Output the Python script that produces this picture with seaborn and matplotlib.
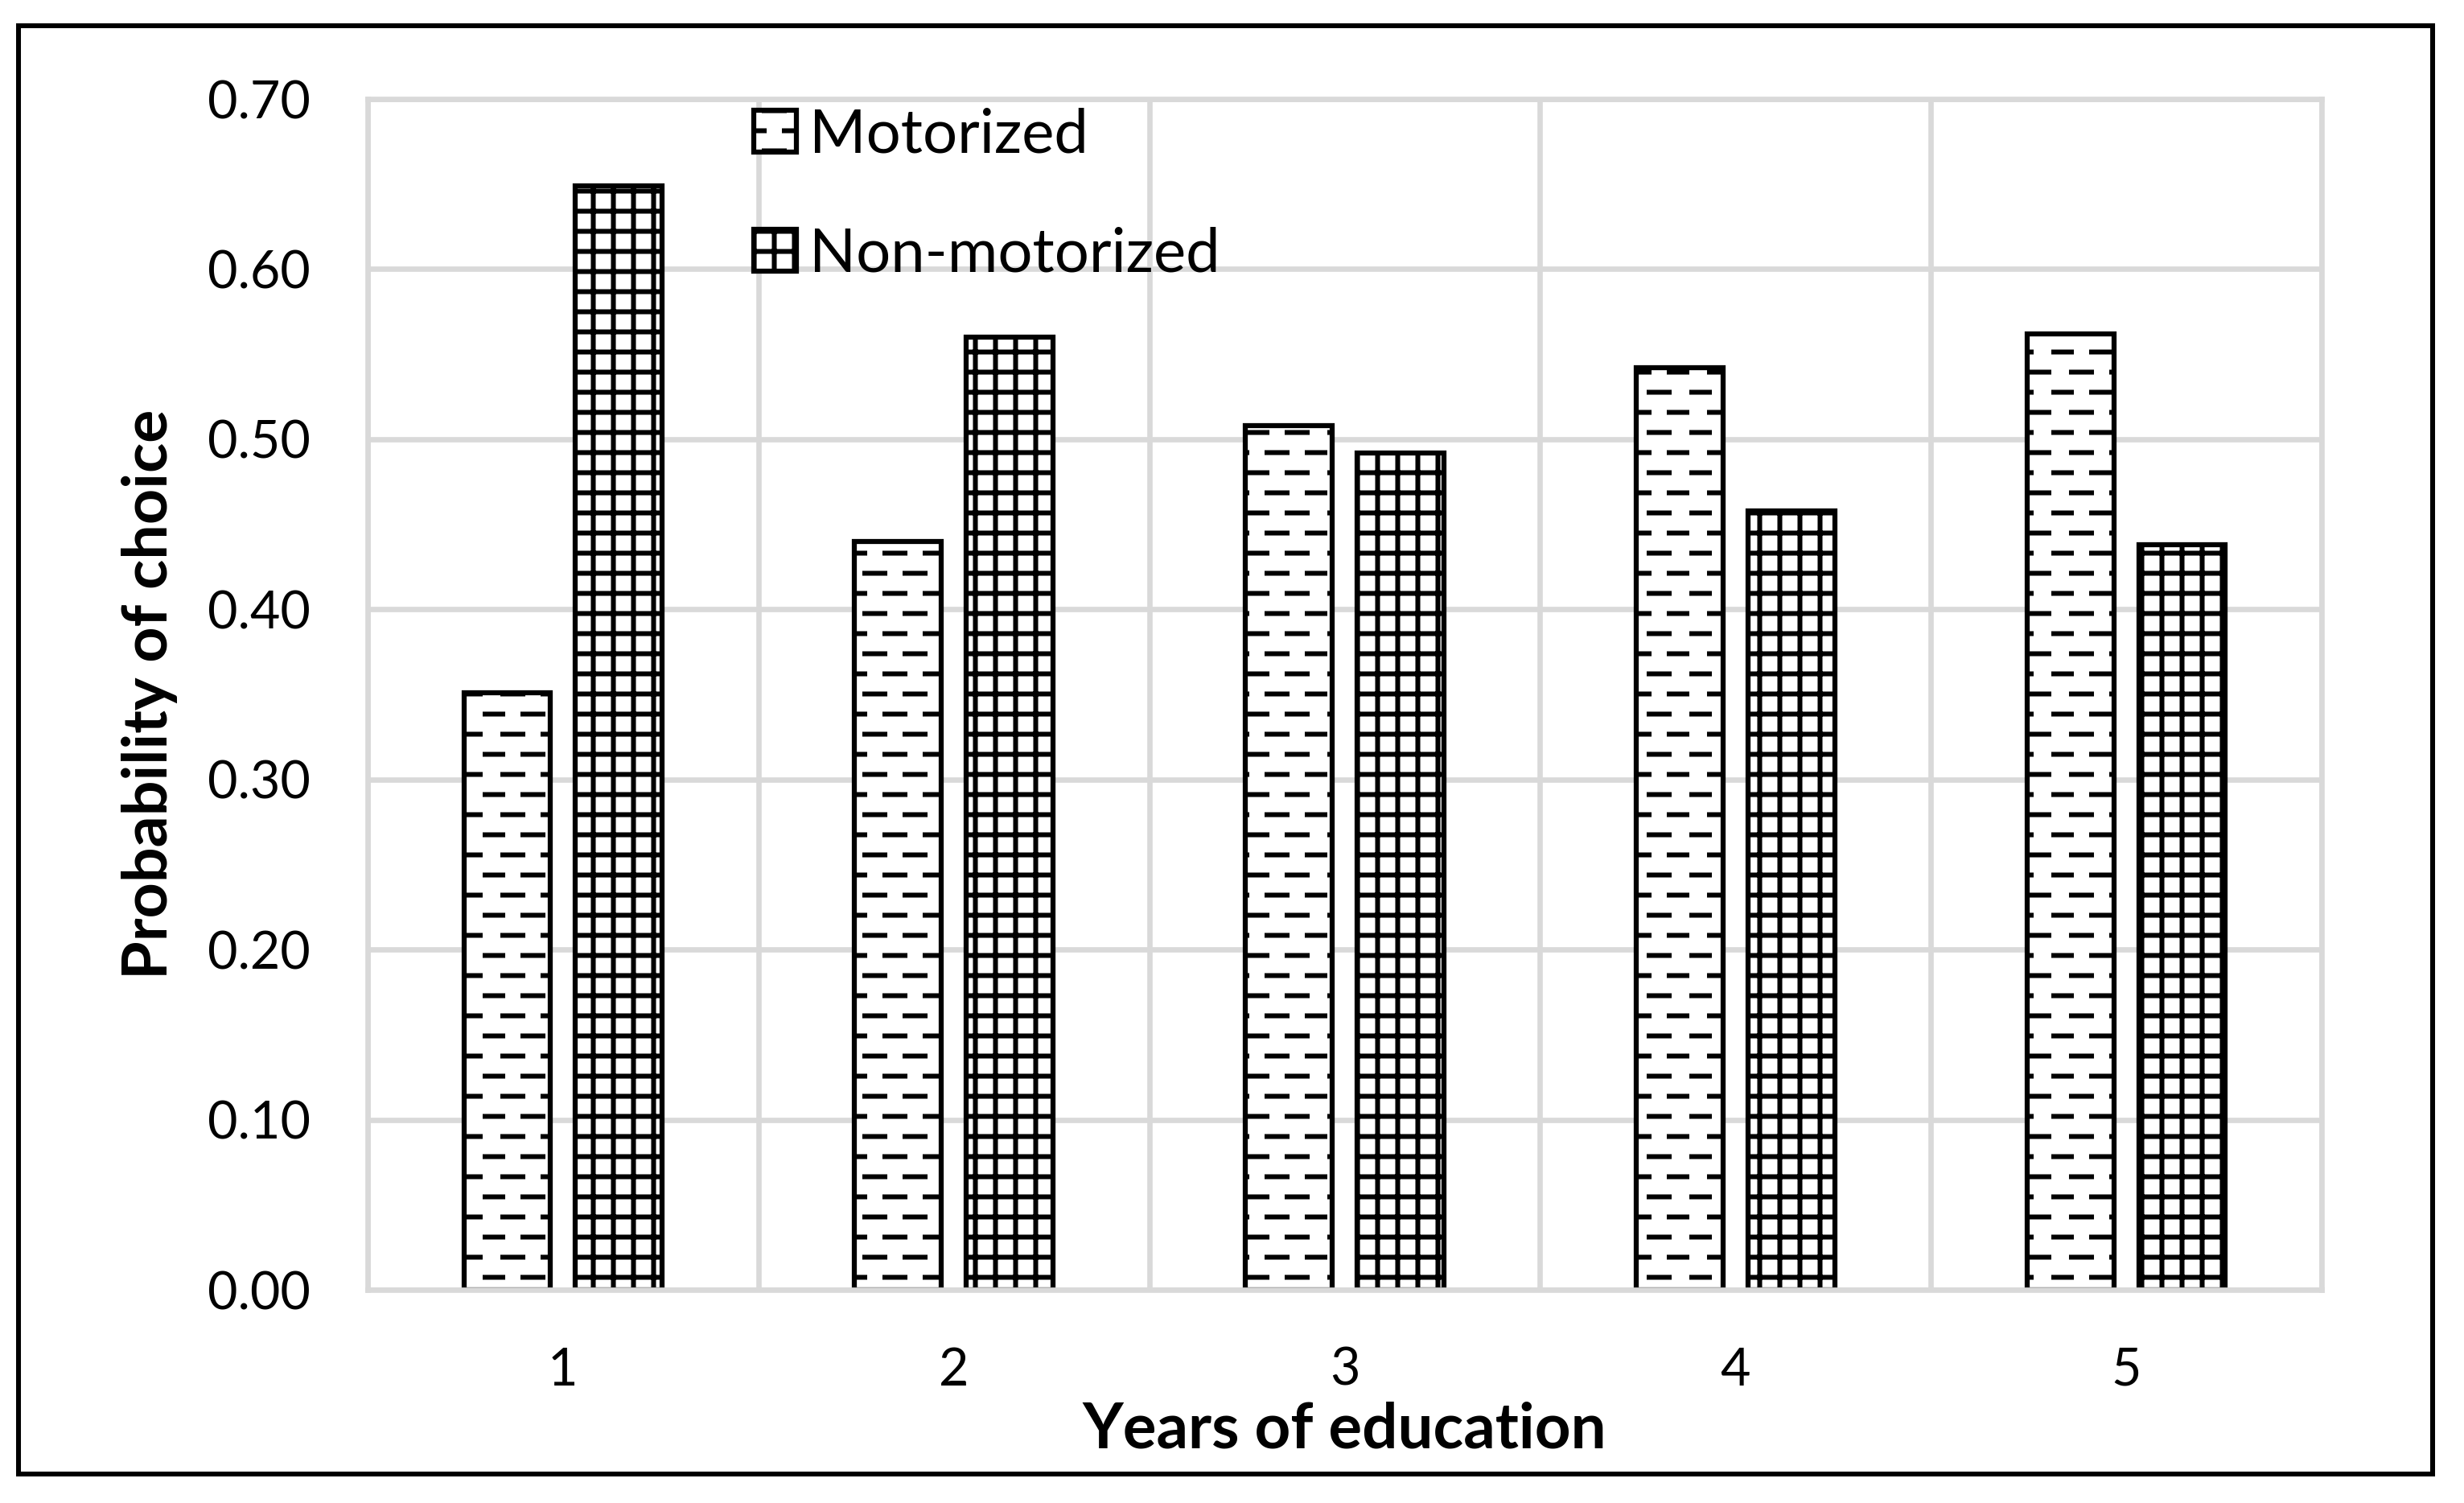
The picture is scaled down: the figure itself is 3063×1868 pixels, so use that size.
import warnings
import pandas as pd
import seaborn as sns
import matplotlib.pyplot as plt
import matplotlib.hatch as mhatch
from matplotlib.path import Path
from matplotlib.patches import Rectangle
from matplotlib.ticker import FixedLocator, FormatStrFormatter

years = ["1", "2", "3", "4", "5"]
motorized = [0.351, 0.440, 0.508, 0.542, 0.562]
non_motorized = [0.649, 0.560, 0.492, 0.458, 0.438]
modes = ["Motorized", "Non-motorized"]
mode_hatches = ["d", "+"]
y_ticks = [0.00, 0.10, 0.20, 0.30, 0.40, 0.50, 0.60, 0.70]


class DashHatch(mhatch.HatchPatternBase):
    """staggered short horizontal dashes (Excel 'dashed horizontal' fill)"""
    rows = 6

    def __init__(self, hatch, density):
        self.num_vertices = self.rows * 3 * 2 if "d" in hatch else 0

    def set_vertices_and_codes(self, vertices, codes):
        step = 1.0 / self.rows
        i = 0
        for row in range(self.rows):
            y = (row + 0.5) * step
            shift = 0.0 if row % 2 == 0 else step
            for k in range(3):
                x0 = shift + 2 * k * step
                vertices[i] = (x0, y)
                vertices[i + 1] = (x0 + step, y)
                codes[i] = Path.MOVETO
                codes[i + 1] = Path.LINETO
                i += 2


mhatch._hatch_types.append(DashHatch)
warnings.filterwarnings("ignore", message=".*hatch must consist.*")

df = pd.DataFrame({
    "years": years * 2,
    "mode": [modes[0]] * len(years) + [modes[1]] * len(years),
    "prob": motorized + non_motorized,
})

sns.set_theme(style="white")
plt.rcParams["font.family"] = ["Lato", "DejaVu Sans"]
plt.rcParams["text.color"] = "black"
plt.rcParams["axes.labelcolor"] = "black"
plt.rcParams["xtick.color"] = "black"
plt.rcParams["ytick.color"] = "black"
plt.rcParams["hatch.linewidth"] = 2.9
plt.rcParams["hatch.color"] = "black"

W, H = 3063, 1868
fig = plt.figure(figsize=(W / 150, H / 150), dpi=150)
ax = fig.add_axes([457 / W, 1 - 1603 / H, 2429 / W, 1480 / H])

sns.barplot(data=df, x="years", y="prob", hue="mode", hue_order=modes,
            palette=["white", "white"], saturation=1, width=0.572, gap=0.224,
            edgecolor="black", linewidth=3, errorbar=None, legend=False, ax=ax)

for container, hatch in zip(ax.containers, mode_hatches):
    for bar in container:
        bar.set_hatch(hatch)

grid_grey = "#d9d9d9"
ax.set_ylim(0, 0.7)
ax.set_xlim(-0.5, len(years) - 0.5)
ax.yaxis.set_major_locator(FixedLocator(y_ticks))
ax.yaxis.set_major_formatter(FormatStrFormatter("%.2f"))
ax.xaxis.set_minor_locator(FixedLocator([i - 0.5 for i in range(len(years) + 1)]))
ax.set_axisbelow(True)
ax.yaxis.grid(True, color=grid_grey, linewidth=3.2)
ax.xaxis.grid(True, which="minor", color=grid_grey, linewidth=3.2)
for spine in ax.spines.values():
    spine.set_color(grid_grey)
    spine.set_linewidth(3.2)
ax.tick_params(axis="both", which="both", length=0, labelsize=31, pad=34)

ax.set_xlabel("Years of education", fontsize=37.5, fontweight="bold", labelpad=4)
ax.set_ylabel("Probability of choice", fontsize=37, fontweight="bold", labelpad=18)

ax.legend(handles=list(ax.containers), labels=modes, loc="upper left",
          bbox_to_anchor=(0.1976, 0.993), frameon=False, fontsize=36.5,
          borderpad=0, borderaxespad=0, handlelength=0.70, handleheight=0.68,
          handletextpad=0.21, labelspacing=1.04)

fig.patches.append(Rectangle((23 / W, 1 - 1832 / H), (3024 - 23) / W, (1832 - 32) / H,
                             transform=fig.transFigure, fill=False,
                             edgecolor="black", linewidth=2.9))

plt.savefig("out.png", dpi=150)
